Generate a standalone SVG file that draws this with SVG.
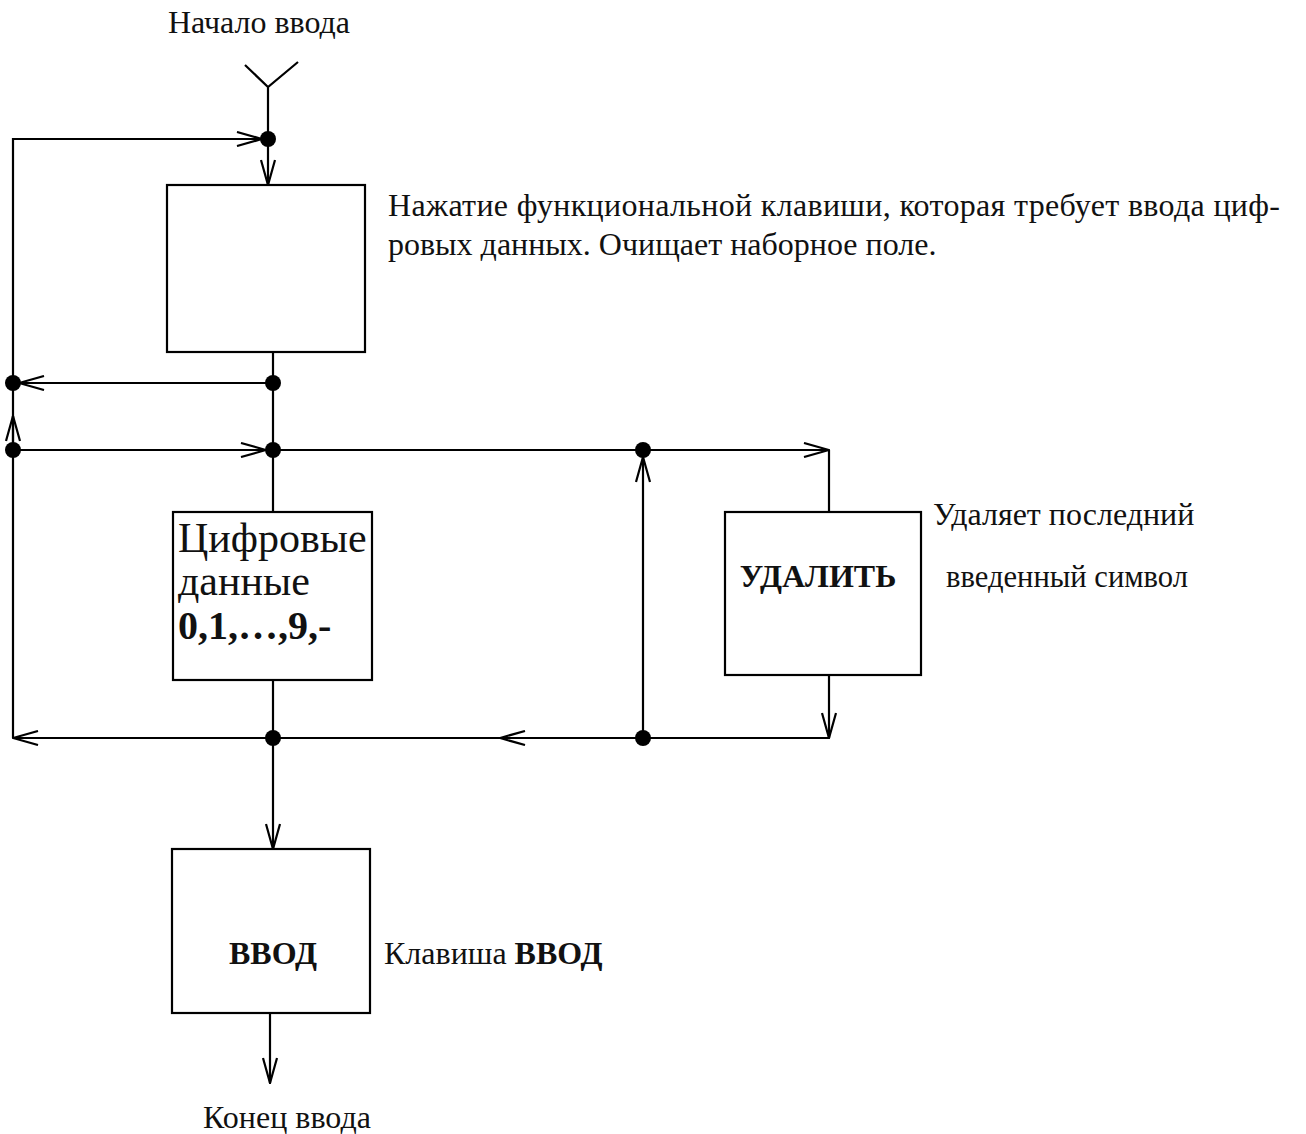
<svg xmlns="http://www.w3.org/2000/svg" width="1306" height="1134" viewBox="0 0 1306 1134">
<defs>
<marker id="arr" viewBox="0 0 27 16" refX="26" refY="8" markerWidth="27" markerHeight="16" markerUnits="userSpaceOnUse" orient="auto">
<path d="M1,1 L26,8 L1,15" fill="none" stroke="#000" stroke-width="2.2"/>
</marker>
</defs>
<style>
.ln{stroke:#000;stroke-width:2.2;fill:none}
.ar{stroke:#000;stroke-width:2.2;fill:none;marker-end:url(#arr)}
.box{fill:#fff;stroke:#000;stroke-width:2.2}
.dot{fill:#000}
.t{font-family:"Liberation Serif","Times New Roman",serif;font-size:32px;fill:#111}
.b{font-weight:bold}
</style>
<rect width="1306" height="1134" fill="#fff"/>
<g id="connectors">
<path class="ln" d="M245,65 L268,87 L298,62 M268,87 L268,139"/>
<path class="ar" d="M268,139 L268,185"/>
<path class="ln" d="M13,738 L13,139 L100,139"/>
<path class="ar" d="M100,139 L262,139"/>
<path class="ln" d="M273,352 L273,512"/>
<path class="ar" d="M273,383 L19,383"/>
<path class="ar" d="M13,450 L13,416"/>
<path class="ar" d="M13,450 L266,450"/>
<path class="ar" d="M273,450 L829,450"/>
<path class="ln" d="M829,450 L829,512"/>
<path class="ln" d="M273,680 L273,738"/>
<path class="ar" d="M273,738 L273,849"/>
<path class="ar" d="M829,675 L829,738"/>
<path class="ln" d="M829,738 L643,738"/>
<path class="ar" d="M643,738 L500,738"/>
<path class="ar" d="M500,738 L13,738"/>
<path class="ar" d="M643,738 L643,457"/>
<path class="ar" d="M270,1013 L270,1083"/>
<circle class="dot" cx="268" cy="139" r="8"/>
<circle class="dot" cx="273" cy="383" r="8"/>
<circle class="dot" cx="13" cy="383" r="8"/>
<circle class="dot" cx="13" cy="450" r="8"/>
<circle class="dot" cx="273" cy="450" r="8"/>
<circle class="dot" cx="643" cy="450" r="8"/>
<circle class="dot" cx="273" cy="738" r="8"/>
<circle class="dot" cx="643" cy="738" r="8"/>
</g>
<g id="start">
<text class="t" x="259" y="33" text-anchor="middle">Начало ввода</text>
</g>
<g id="func-key">
<rect class="box" x="167" y="185" width="198" height="167"/>
<text class="t" x="388" y="216" textLength="892" lengthAdjust="spacing">Нажатие функциональной клавиши, которая требует ввода циф-</text>
<text class="t" x="388" y="255">ровых данных. Очищает наборное поле.</text>
</g>
<g id="digits">
<rect class="box" x="173" y="512" width="199" height="168"/>
<text class="t" x="178" y="552" style="font-size:42px">Цифровые</text>
<text class="t" x="178" y="595" style="font-size:42px">данные</text>
<text class="t b" x="178" y="639" style="font-size:40px">0,1,…,9,-</text>
</g>
<g id="delete">
<rect class="box" x="725" y="512" width="196" height="163"/>
<text class="t b" x="818" y="587" text-anchor="middle">УДАЛИТЬ</text>
<text class="t" x="933" y="525">Удаляет последний</text>
<text class="t" x="946" y="587" textLength="242" lengthAdjust="spacingAndGlyphs">введенный символ</text>
</g>
<g id="enter">
<rect class="box" x="172" y="849" width="198" height="164"/>
<text class="t b" x="273" y="964" text-anchor="middle">ВВОД</text>
<text class="t" x="384" y="964">Клавиша <tspan class="b">ВВОД</tspan></text>
</g>
<g id="end">
<text class="t" x="287" y="1128" text-anchor="middle">Конец ввода</text>
</g>
</svg>
